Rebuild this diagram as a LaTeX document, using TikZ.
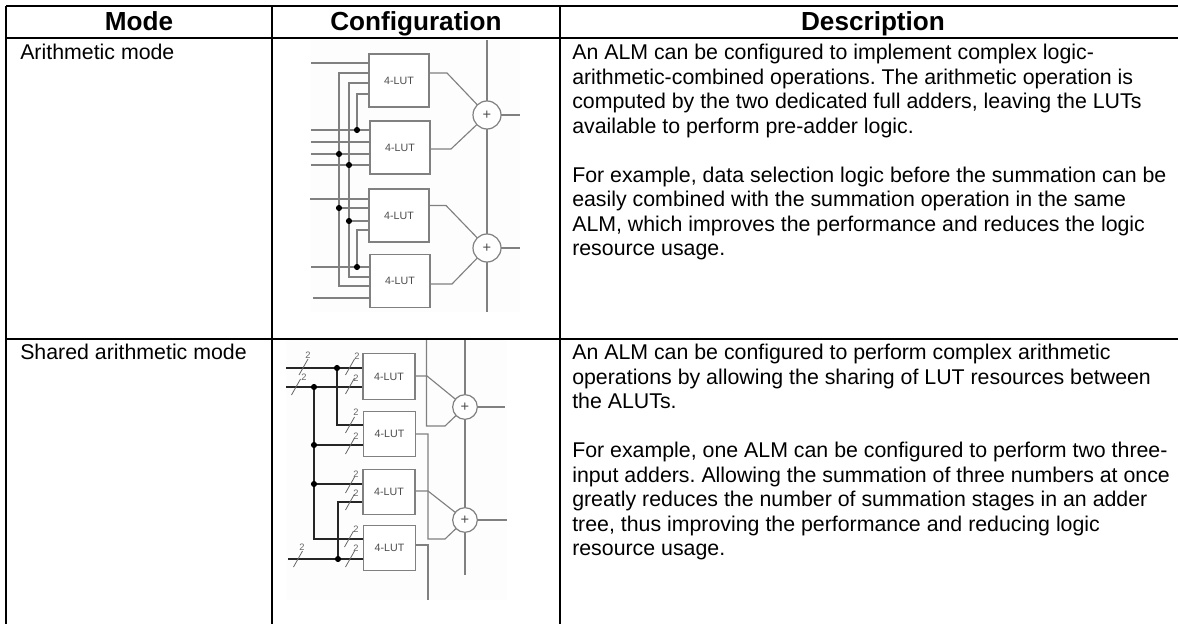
\documentclass[tikz,border=0pt]{standalone}
\usepackage{fontspec}
\setmainfont{Liberation Sans}
\pgfdeclarelayer{wires}
\pgfsetlayers{wires,main}
\begin{document}
\frenchspacing
\begin{tikzpicture}[x=0.75pt,y=-0.75pt,
  rule/.style={line width=1.5pt,black},
  wire/.style={draw=black!50,line width=0.85pt},
  thick wire/.style={draw=black!85,line width=1.6pt},
  lut/.style={draw=black!50,line width=0.9pt,fill=white,inner sep=0,outer sep=0,font=\fontsize{8}{9}\selectfont,text=black!70},
  adder/.style={circle,draw=black!50,line width=0.9pt,fill=white,inner sep=0,outer sep=0,font=\fontsize{11}{12}\selectfont,text=black!70},
  dot/.style={circle,fill=black,inner sep=0,outer sep=0,minimum size=4.6pt},
  head/.style={font=\bfseries\fontsize{19.6}{22}\selectfont,anchor=base,inner sep=0},
  cell/.style={font=\fontsize{16}{18.4}\selectfont,anchor=north west,align=left,inner sep=0},
  two/.style={font=\fontsize{7}{8}\selectfont,text=black!60,inner sep=0},
  slashline/.style={draw=black!60,line width=0.6pt}]
\useasboundingbox (0,0) rectangle (1178,624);
% table
\coordinate (tl) at (6,6); \coordinate (tr) at (1178,6);
\coordinate (hl) at (6,38.5); \coordinate (hr) at (1178,38.5);
\coordinate (rl) at (6,338.5); \coordinate (rr) at (1178,338.5);
\coordinate (bl) at (6,624); \coordinate (c1t) at (272,6); \coordinate (c1b) at (272,624);
\coordinate (c2t) at (560,6); \coordinate (c2b) at (560,624);
\draw[rule] (tl)--(tr); \draw[rule] (hl)--(hr); \draw[rule] (rl)--(rr);
\draw[rule] (tl)--(bl); \draw[rule] (c1t)--(c1b); \draw[rule] (c2t)--(c2b);
\node[head] (hmode) at (139,31) {Mode};
\node[head] (hconf) at (416,31) {Configuration};
\node[head] (hdesc) at (873,31) {Description};
\node[cell] (m1) at (20,44) {Arithmetic mode};
\node[cell] (m2) at (20,344) {Shared arithmetic mode};
\node[cell] (d1) at (572,44) {An ALM can be configured to implement complex logic-\\
arithmetic-combined operations. The arithmetic operation is\\
computed by the two dedicated full adders, leaving the LUTs\\
available to perform pre-adder logic.\\[18.4pt]
For example, data selection logic before the summation can be\\
easily combined with the summation operation in the same\\
ALM, which improves the performance and reduces the logic\\
resource usage.};
\node[cell] (d2) at (572,344) {An ALM can be configured to perform complex arithmetic\\
operations by allowing the sharing of LUT resources between\\
the ALUTs.\\[18.4pt]
For example, one ALM can be configured to perform two three-\\
input adders. Allowing the summation of three numbers at once\\
greatly reduces the number of summation stages in an adder\\
tree, thus improving the performance and reducing logic\\
resource usage.};
% --- upper diagram
\foreach \n/\cx/\cy in {a/399/80.5,b/400/147.5,c/399/215.5,d/400/281}
  \node[lut,minimum width=45pt,minimum height=39.75pt] (\n) at (\cx,\cy) {4-LUT};
\node[adder,minimum size=21pt] (p1) at (487,115) {+};
\node[adder,minimum size=21pt] (p2) at (487,248) {+};
\node[dot] (k1) at (357,130) {};
\node[dot] (k2) at (339,154) {};
\node[dot] (k3) at (349,165) {};
\node[dot] (k4) at (339,208) {};
\node[dot] (k5) at (349,221) {};
\node[dot] (k6) at (357,267) {};
% --- lower diagram
\foreach \n/\cx/\cy in {f/389/376.5,g/389.5/434,h/389/492,i/389.5/548}
  \node[lut,minimum width=39pt,minimum height=34pt] (\n) at (\cx,\cy) {4-LUT};
\node[adder,minimum size=18.5pt] (q1) at (465,407) {+};
\node[adder,minimum size=18.5pt] (q2) at (465,520) {+};
\node[dot] (z1) at (337,368) {};
\node[dot] (z2) at (314,387) {};
\node[dot] (z3) at (314,445) {};
\node[dot] (z4) at (314,484) {};
\node[dot] (z5) at (338,559) {};
\foreach \i/\x/\y/\lx/\ly in {1/303.5/367/308/355,2/350/367/357/356,3/296/387/304/377,4/350/386/356/378,5/350/425/356/412,6/350/446/356/436,7/350/485/356/474,8/350/502/356/493,9/349/539/356/529,10/350/559/356/548,11/298/559/302/547}{
  \coordinate (sa\i) at (\x-4.5,\y+8);
  \coordinate (sb\i) at (\x+4.5,\y-8);
  \draw[slashline] (sa\i)--(sb\i);
  \node[two] (lb\i) at (\lx,\ly) {2};
}
\begin{pgfonlayer}{wires}
\fill[fill=black!0.7] (310,40) rectangle (520,312);
\fill[fill=black!0.7] (286,340) rectangle (507,600);
\coordinate (vt) at (487,40); \coordinate (vb) at (487,312);
\draw[wire] (vt)--(p1); \draw[wire] (p1)--(p2); \draw[wire] (p2)--(vb);
\coordinate (r1) at (520,115); \coordinate (r2) at (520,248);
\draw[wire] (p1)--(r1); \draw[wire] (p2)--(r2);
\coordinate (oa) at (447,73); \coordinate (ob) at (451,149); \coordinate (oc) at (446,205.5); \coordinate (od) at (452,284);
\draw[wire] (a.east|-oa)--(oa)--(p1);
\draw[wire] (b.east|-ob)--(ob)--(p1);
\draw[wire] (c.east|-oc)--(oc)--(p2);
\draw[wire] (d.east|-od)--(od)--(p2);
\foreach \n/\b/\x/\y in {s1/a/311/63,s2/b/311/130,s3/b/311/142,s4/b/311/154,s5/b/311/165,s6/c/310/199,s7/d/311/267,s8/d/313/298}{
  \coordinate (\n) at (\x,\y);
  \draw[wire] (\n)--(\n-|\b.west);
}
\coordinate (e1) at (339,73); \coordinate (e2) at (349,83); \coordinate (e3) at (357,94);
\coordinate (e4) at (357,230); \coordinate (e5) at (349,277); \coordinate (e6) at (339,286);
\draw[wire] (a.west|-e1)--(e1)--(e6)--(d.west|-e6);
\draw[wire] (a.west|-e2)--(e2)--(e5)--(d.west|-e5);
\draw[wire] (a.west|-e3)--(e3)--(k1);
\draw[wire] (c.west|-e4)--(e4)--(k6);
\draw[wire] (k4)--(k4-|c.west);
\draw[wire] (k5)--(k5-|c.west);
\coordinate (wt) at (465,340); \coordinate (wb) at (465,575);
\draw[wire] (wt)--(q1); \draw[wire] (q1)--(q2); \draw[wire] (q2)--(wb);
\coordinate (t1) at (505,407); \coordinate (t2) at (507,520);
\draw[wire] (q1)--(t1); \draw[wire] (q2)--(t2);
\coordinate (of) at (427,376); \coordinate (oh) at (428,491);
\draw[wire] (f.east|-of)--(of)--(q1);
\draw[wire] (h.east|-oh)--(oh)--(q2);
\coordinate (u0) at (426.5,340); \coordinate (u1) at (426.5,426); \coordinate (u2) at (445,426);
\draw[wire] (u0)--(u1)--(u2)--(q1);
\coordinate (v0) at (428,434); \coordinate (v1) at (428,539); \coordinate (v2) at (445,539);
\draw[wire] (g.east|-v0)--(v0)--(v1)--(v2)--(q2);
\coordinate (x0) at (428,545); \coordinate (x1) at (428,600);
\draw[wire] (i.east|-x0)--(x0)--(x1);
\coordinate (y1) at (286,368); \coordinate (y2) at (286,387); \coordinate (y3) at (288,559);
\draw[thick wire] (y1)--(y1-|f.west);
\draw[thick wire] (y2)--(y2-|f.west);
\draw[thick wire] (y3)--(y3-|i.west);
\coordinate (w1) at (337,425); \coordinate (w2) at (314,539); \coordinate (w3) at (338,502);
\draw[thick wire] (z1)--(w1)--(w1-|g.west);
\draw[thick wire] (z2)--(w2)--(w2-|i.west);
\draw[thick wire] (z3)--(z3-|g.west);
\draw[thick wire] (z4)--(z4-|h.west);
\draw[thick wire] (z5)--(w3)--(w3-|h.west);
\end{pgfonlayer}
\end{tikzpicture}
\end{document}
